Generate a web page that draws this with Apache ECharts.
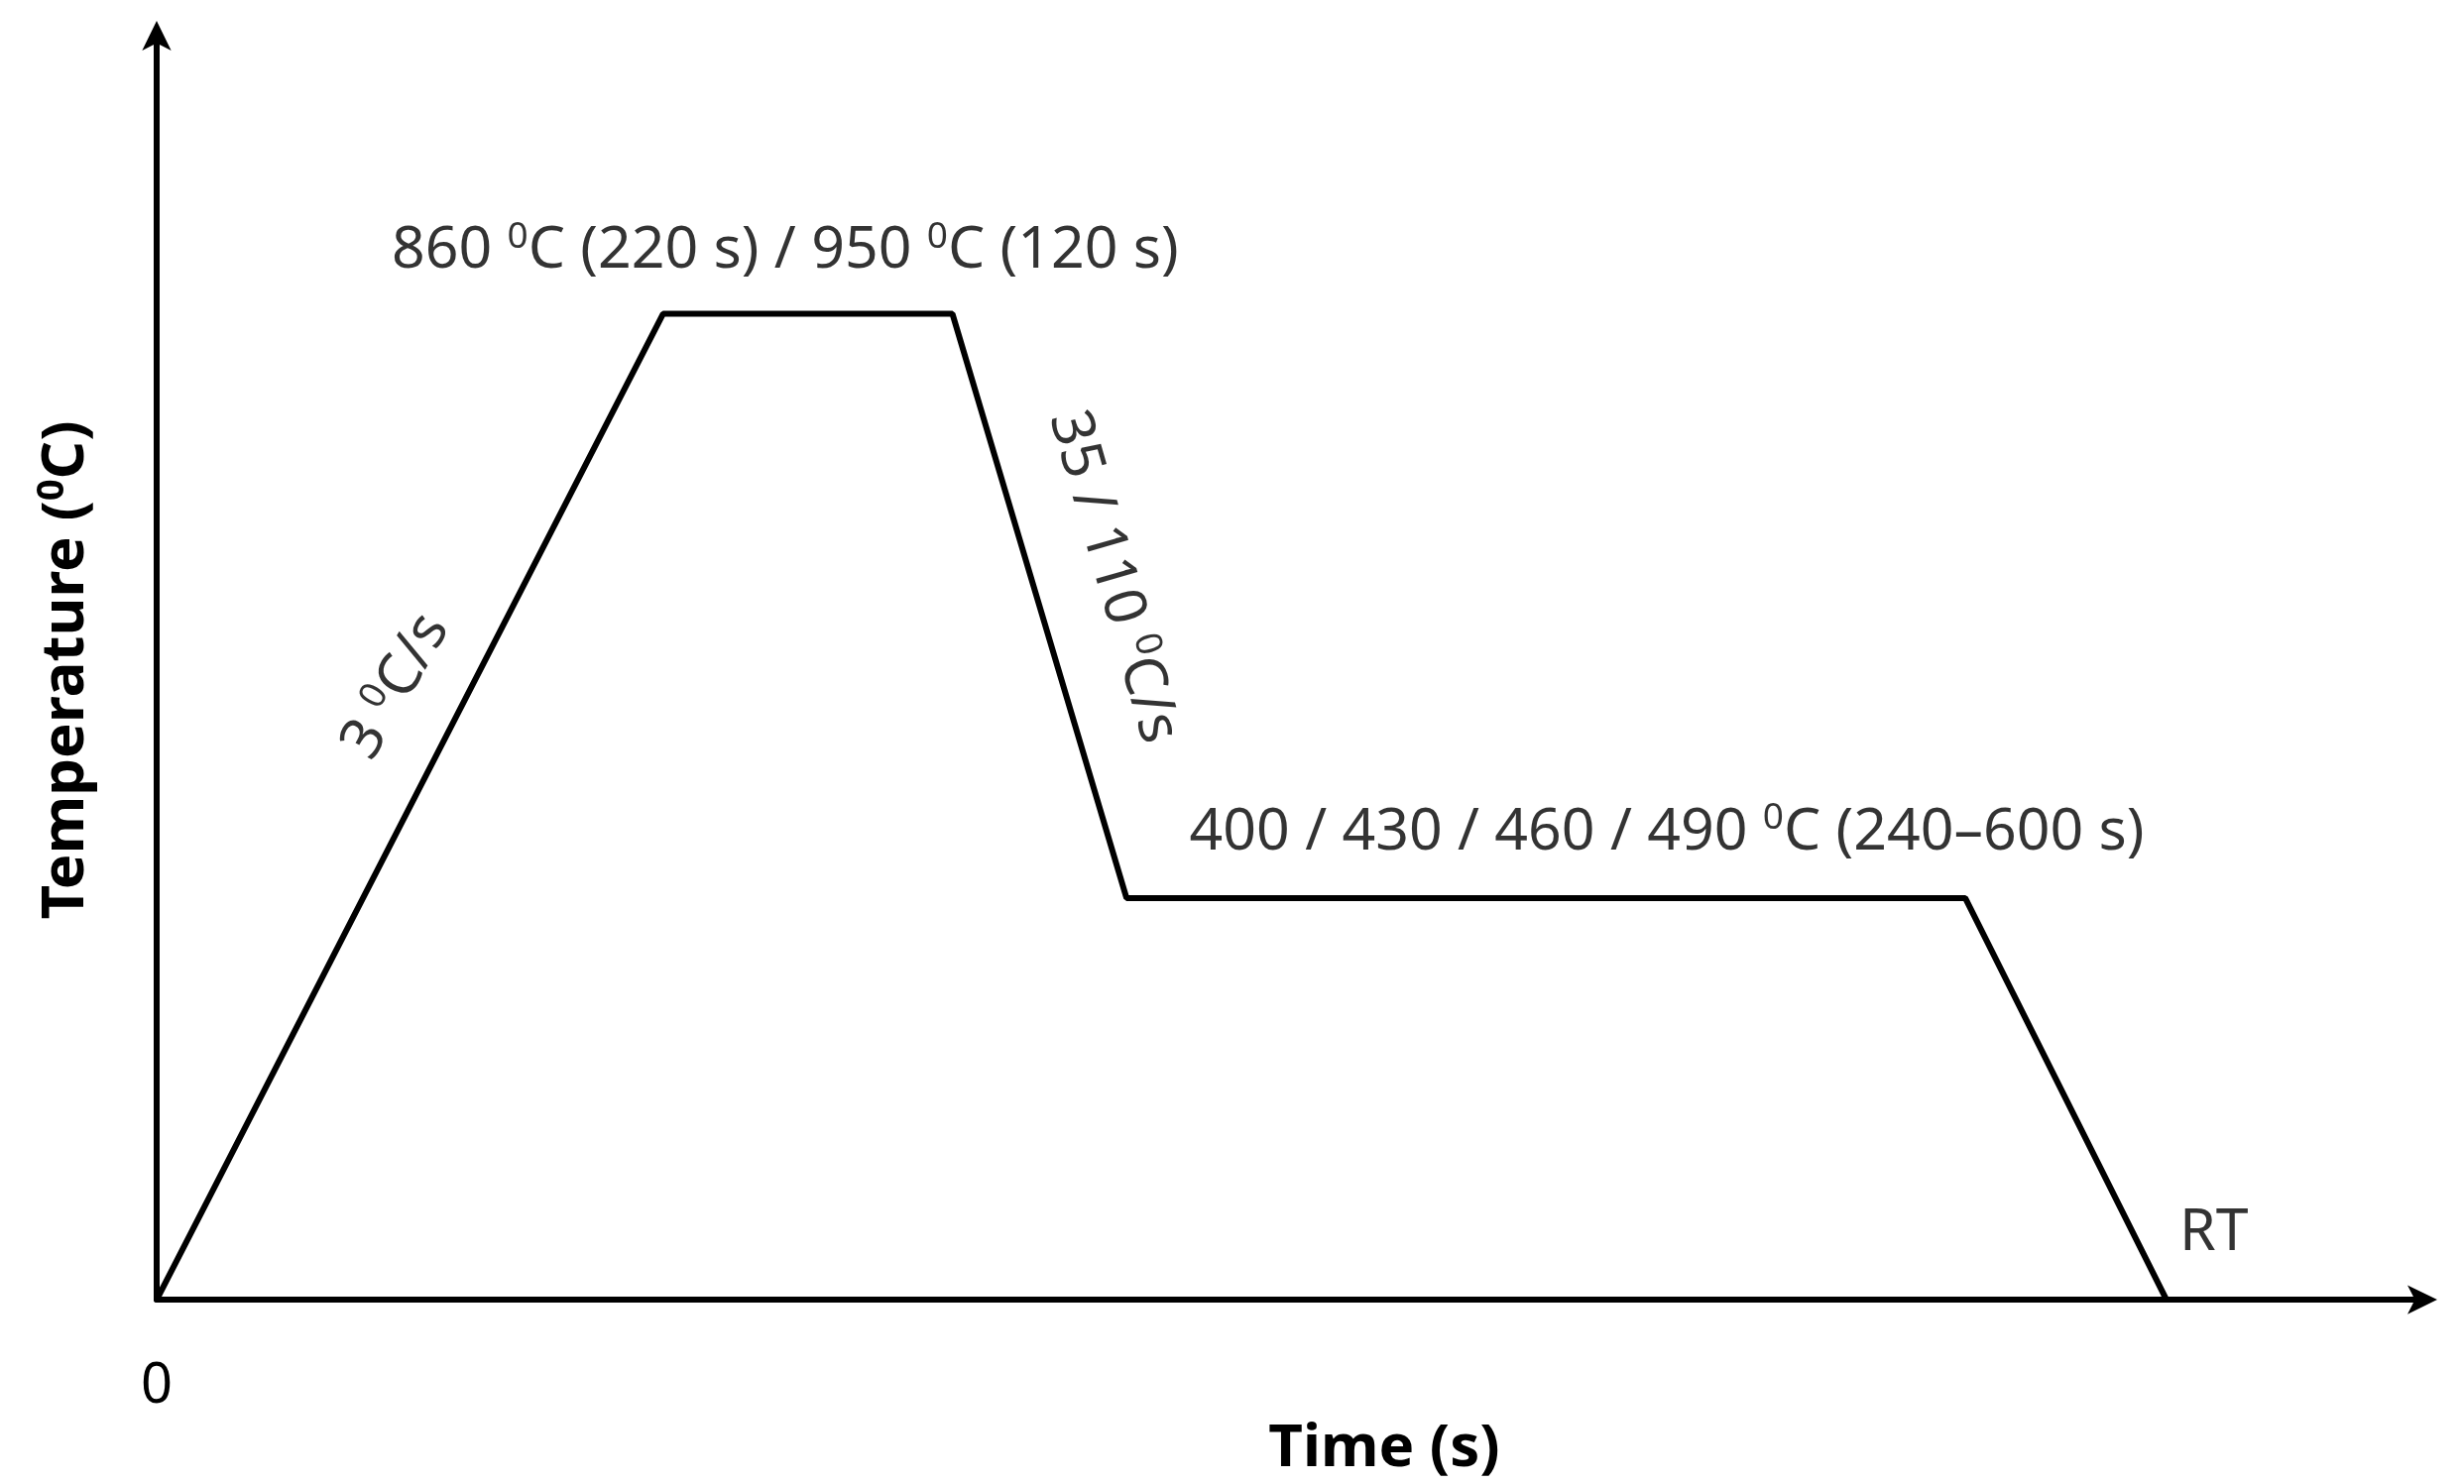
<!DOCTYPE html>
<html><head><meta charset="utf-8">
<script src="https://cdn.jsdelivr.net/npm/echarts@6/dist/echarts.min.js"></script>
<style>html,body{margin:0;padding:0;background:#fff}#c{width:2485px;height:1497px}</style>
</head><body><div id="c"></div>
<script>
const times = [0, 22.4, 35.2, 42.9, 80.0, 88.9];
const temps = [0, 78.3, 78.3, 31.9, 31.9, 0];
const noteX = [27.8, 10.6, 42.3, 66.8, 91.0];
const noteY = [83.3, 48.7, 57.4, 37.1, 5.3];
const noteText = [
  '860 {s|0}C (220 s) / 950 {s|0}C (120 s)',
  '3 {s|0}C/s',
  '35 / 110 {s|0}C/s',
  '400 / 430 / 460 / 490 {s|0}C (240\u2013600 s)',
  'RT'
];
const noteRot = [0, 60, -74, 0, 0];
const F = '"Noto Sans", "Liberation Sans", sans-serif';
const rich = {s: {fontSize: 37, fontFamily: F, color: '#000', padding: [0, 0, 28, 0]}};
const chart = echarts.init(document.getElementById('c'));
chart.setOption({
  animation: false,
  grid: {left: 158, right: 47, top: 41, bottom: 97},
  xAxis: {
    type: 'value', min: 0, max: 100, interval: 100,
    name: 'Time (s)', nameLocation: 'middle', nameGap: 8,
    nameTextStyle: {fontSize: 60, fontWeight: 'bold', fontFamily: F, color: '#000', padding: [0, 0, 0, 196]},
    axisLine: {lineStyle: {color: '#000', width: 6}, symbol: ['none', 'arrow'], symbolSize: [22, 30], symbolOffset: [0, 20]},
    axisTick: {show: false}, splitLine: {show: false},
    axisLabel: {margin: 60, fontSize: 56, fontFamily: F, color: '#000', formatter: v => v === 0 ? '0' : ''}
  },
  yAxis: {
    type: 'value', min: 0, max: 100,
    name: 'Temperature ({s|0}C)', nameLocation: 'middle', nameGap: 58, nameRotate: 90,
    nameTextStyle: {fontSize: 60, fontWeight: 'bold', fontFamily: F, color: '#000',
      rich: {s: {fontSize: 38, fontWeight: 'bold', fontFamily: F, color: '#000', padding: [0, 0, 28, 0]}}},
    axisLine: {lineStyle: {color: '#000', width: 6}, symbol: ['none', 'arrow'], symbolSize: [22, 30], symbolOffset: [0, 20]},
    axisTick: {show: false}, splitLine: {show: false}, axisLabel: {show: false}
  },
  series: [
    {type: 'line', data: times.map((t, i) => [t, temps[i]]), symbol: 'none',
     lineStyle: {color: '#000', width: 6}, clip: false},
    {type: 'scatter', symbolSize: 0, clip: false,
     data: noteX.map((x, i) => ({value: [x, noteY[i]],
       label: {show: true, position: 'inside', formatter: noteText[i], rotate: noteRot[i],
         fontSize: 59, fontFamily: F, color: '#000', rich: rich}}))}
  ]
});
</script></body></html>
